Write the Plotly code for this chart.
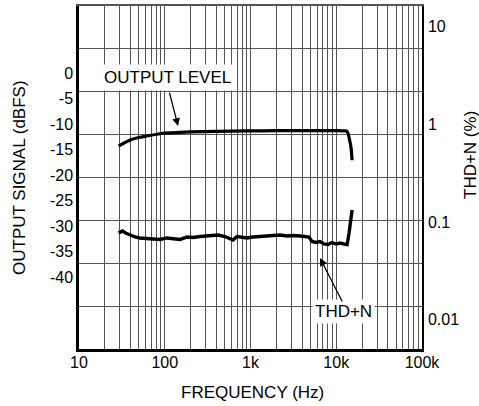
import numpy as np
import plotly.graph_objects as go

# ---- data ----
out_freq = [29, 40, 51, 62, 95, 150, 200, 400, 900, 2000, 5000, 10000, 12000, 13300, 13700, 14300, 14900, 15300]
out_db = [-14.3, -13.1, -12.6, -12.35, -11.8, -11.65, -11.55, -11.45, -11.35, -11.3, -11.3, -11.3, -11.35, -11.4, -11.8, -13.1, -14.7, -17.1]

thd_freq = [29, 32, 35, 39, 45, 51, 62, 73, 88, 106,
            125, 151, 182, 214, 258, 311, 365, 418, 504, 577,
            625, 696, 796, 910, 1070, 1290, 1560, 1830, 2210, 2670,
            3130, 3780, 4320, 4810, 5210, 5800, 6460, 7200, 8010, 8920,
            9930, 11100, 12300, 13400, 14100, 14900, 15300]
thd_pct = [0.0773, 0.0811, 0.0773, 0.0738, 0.0704, 0.0688, 0.0679, 0.0671, 0.0664, 0.0688,
           0.0679, 0.0664, 0.0704, 0.0696, 0.0712, 0.0721, 0.0721, 0.0738, 0.0712, 0.0679,
           0.0656, 0.0712, 0.0696, 0.0688, 0.0704, 0.0712, 0.0721, 0.0729, 0.0738, 0.0721,
           0.0729, 0.0721, 0.0712, 0.0704, 0.0633, 0.0618, 0.0633, 0.0597, 0.0590, 0.0618,
           0.0597, 0.0611, 0.0597, 0.0590, 0.0773, 0.1128, 0.1330]

x_tickvals = [10, 100, 1000, 10000, 100000]
x_ticktext = ["10", "100", "1k", "10k", "100k"]
x_minor = [m * d for d in (10, 100, 1000, 10000) for m in range(2, 10)]
left_ticks = [0, -5, -10, -15, -20, -25, -30, -35, -40]
left_text = [str(v) for v in left_ticks]
right_ticks = [0.01, 0.1, 1, 10]
right_text = ["0.01", "0.1", "1", "10"]
grid_divs = list(range(1, 8))

FONT = "Liberation Sans, Arial, sans-serif"
GRID = "#555555"

# plot area in pixels
L, T, W, H = 79, 6, 343, 343


def px_x(p):
    return (p - L) / W


def px_y(p):
    return (T + H - p) / H


fig = go.Figure()
fig.add_trace(go.Scatter(x=out_freq, y=out_db, mode="lines",
                         line=dict(color="black", width=3.2, shape="spline", smoothing=0.5),
                         showlegend=False, hoverinfo="skip"))
fig.add_trace(go.Scatter(x=thd_freq, y=thd_pct, mode="lines", yaxis="y2",
                         line=dict(color="black", width=3.4),
                         showlegend=False, hoverinfo="skip"))
fig.add_trace(go.Scatter(x=[], y=[], yaxis="y3", showlegend=False))
fig.add_trace(go.Scatter(x=[], y=[], xaxis="x2", showlegend=False))

fig.update_layout(
    width=479, height=406,
    margin=dict(l=L, r=479 - L - W, t=T, b=406 - T - H, pad=0),
    paper_bgcolor="white", plot_bgcolor="white",
    font=dict(family=FONT, size=16, color="black"),
    xaxis=dict(type="log", range=[1, 5], tickmode="array", tickvals=x_tickvals, ticktext=x_ticktext,
               showgrid=True, gridcolor=GRID, gridwidth=1.3,
               minor=dict(tickmode="array", tickvals=x_minor, showgrid=True, gridcolor=GRID,
                          gridwidth=1.3, ticks=""),
               showline=True, linecolor="black", linewidth=2.5, ticks="", zeroline=False,
               ticklabelstandoff=-3),
    xaxis2=dict(type="log", range=[1, 5], overlaying="x", side="top", showline=True,
                linecolor=GRID, linewidth=2, showticklabels=False, showgrid=False, ticks="",
                zeroline=False),
    yaxis=dict(range=[-54.1, 13.14], tickmode="array", tickvals=left_ticks, ticktext=left_text,
               showgrid=False, zeroline=False, showline=True, linecolor="black", linewidth=2.5,
               ticks="", ticklabelstandoff=0),
    yaxis2=dict(type="log", range=[-2.299, 1.212], overlaying="y", side="right",
                tickmode="array", tickvals=right_ticks, ticktext=right_text,
                showgrid=False, showline=True, linecolor="black", linewidth=1.5, ticks="",
                zeroline=False, ticklabelstandoff=1),
    yaxis3=dict(range=[0, 8], overlaying="y", tickmode="array", tickvals=grid_divs,
                showgrid=True, gridcolor=GRID, gridwidth=1.3, showticklabels=False, ticks="",
                zeroline=False, showline=False),
)

fig.add_annotation(text="OUTPUT SIGNAL (dBFS)", xref="paper", yref="paper",
                   x=px_x(19.5), y=px_y(177.5), textangle=-90, showarrow=False,
                   font=dict(size=17), xanchor="center", yanchor="middle")
fig.add_annotation(text="THD+N (%)", xref="paper", yref="paper",
                   x=px_x(470), y=px_y(155), textangle=-90, showarrow=False,
                   font=dict(size=17), xanchor="center", yanchor="middle")
fig.add_annotation(text="FREQUENCY (Hz)", xref="paper", yref="paper",
                   x=px_x(252), y=px_y(393), showarrow=False,
                   font=dict(size=17), xanchor="center", yanchor="middle")

# labels with white boxes
fig.add_annotation(text="OUTPUT LEVEL", xref="x", yref="y",
                   x=np.log10(109), y=-0.78, showarrow=False,
                   bgcolor="white", borderpad=3, font=dict(size=17))
fig.add_annotation(text="THD+N", xref="x", yref="y2",
                   x=np.log10(11990), y=np.log10(0.0123), showarrow=False,
                   bgcolor="white", borderpad=2, font=dict(size=17))
# arrows (tip on data coords, tail offset in px)
fig.add_annotation(text="", xref="x", yref="y",
                   x=np.log10(143), y=-10.4, ax=-9, ay=-35,
                   showarrow=True, arrowhead=2, arrowsize=1.2, arrowwidth=1.3, arrowcolor="black")
fig.add_annotation(text="", xref="x", yref="y2",
                   x=np.log10(6460), y=np.log10(0.0429), ax=23, ay=45,
                   showarrow=True, arrowhead=2, arrowsize=1.2, arrowwidth=1.3, arrowcolor="black")

fig.write_html("out.html")
